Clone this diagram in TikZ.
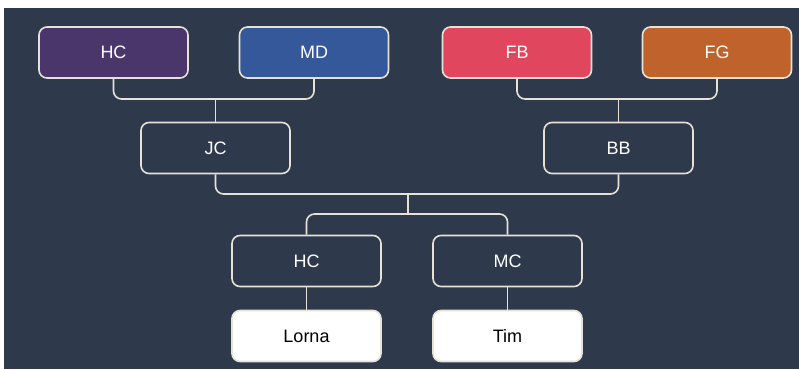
\documentclass[tikz,border=0pt]{standalone}
\usepackage{fontspec}
\setmainfont{Liberation Sans}
\definecolor{bgc}{HTML}{2E3A4C}
\definecolor{linec}{HTML}{E6E2D6}
\definecolor{cpurple}{HTML}{4B366C}
\definecolor{cblue}{HTML}{34589A}
\definecolor{cred}{HTML}{E0475E}
\definecolor{corange}{HTML}{C0622B}
\begin{document}
\begin{tikzpicture}[x=1pt,y=-1pt,
  person/.style={draw=linec, line width=1.6pt, rounded corners=8pt,
    minimum width=149pt, minimum height=51pt, inner sep=0pt,
    text=white, font=\fontsize{18}{21}\selectfont},
  leaf/.style={person, fill=white, text=black},
  conn/.style={draw=linec, line width=1.6pt, rounded corners=8pt}]
\useasboundingbox (0,0) rectangle (799,369);
\fill[white] (0,0) rectangle (799,369);
\fill[bgc] (4,8) rectangle (799,369);
% grandparents
\node[person, fill=cpurple] (hca) at (113.5,52.5) {HC};
\node[person, fill=cblue] (md) at (314,52.5) {MD};
\node[person, fill=cred] (fb) at (517,52.5) {FB};
\node[person, fill=corange] (fg) at (717,52.5) {FG};
% parents
\node[person] (jc) at (215.5,148) {JC};
\node[person] (bb) at (618.5,148) {BB};
% children
\node[person] (hcb) at (306.5,261) {HC};
\node[person] (mc) at (507.5,261) {MC};
% grandchildren
\node[leaf] (lorna) at (306.5,336) {Lorna};
\node[leaf] (tim) at (507.5,336) {Tim};
% junctions
\coordinate (j1) at (215.5,99);
\coordinate (j2) at (618.5,99);
\coordinate (j3) at (408,194);
\coordinate (j4) at (408,214);
\draw[conn] (hca.south) |- (j1) -| (md.south);
\draw[conn] (j1) -- (jc.north);
\draw[conn] (fb.south) |- (j2) -| (fg.south);
\draw[conn] (j2) -- (bb.north);
\draw[conn] (jc.south) |- (j3) -| (bb.south);
\draw[conn] (j3) -- (j4);
\draw[conn] (hcb.north) |- (j4) -| (mc.north);
\draw[conn] (hcb.south) -- (lorna.north);
\draw[conn] (mc.south) -- (tim.north);
\end{tikzpicture}
\end{document}
